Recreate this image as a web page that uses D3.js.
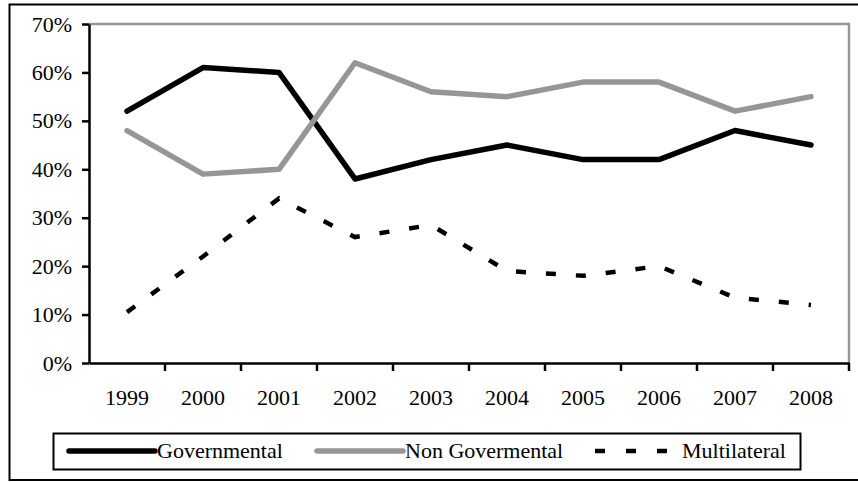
<!DOCTYPE html>
<html>
<head>
<meta charset="utf-8">
<script src="https://cdn.jsdelivr.net/npm/d3@7"></script>
<style>
  html, body { margin: 0; padding: 0; background: #fff; }
  svg { display: block; }
  text { font-family: "Liberation Serif", "Times New Roman", serif; fill: #000; }
</style>
</head>
<body>
<svg id="chart" width="858" height="482"></svg>
<script>
// ---- data ----
const years = ["1999","2000","2001","2002","2003","2004","2005","2006","2007","2008"];
const governmental    = [0.52, 0.61, 0.60, 0.38, 0.42, 0.45, 0.42, 0.42, 0.48, 0.45];
const nonGovermental  = [0.48, 0.39, 0.40, 0.62, 0.56, 0.55, 0.58, 0.58, 0.52, 0.55];
const multilateral    = [0.105, 0.22, 0.34, 0.26, 0.285, 0.19, 0.18, 0.20, 0.135, 0.12];
const seriesNames = ["Governmental", "Non Govermental", "Multilateral"];
const yTicks = [0, 0.1, 0.2, 0.3, 0.4, 0.5, 0.6, 0.7];

(function () {
// ---- styles ----
const FS = "22px";
const styles = [
  { color: "#000000", width: 5.5, dash: null, cap: "round" },
  { color: "#969696", width: 5.5, dash: null, cap: "round" },
  { color: "#000000", width: 4.5, dash: "10,20", cap: "butt" }
];
const seriesValues = [governmental, nonGovermental, multilateral];

const svg = d3.select("#chart");
const pl = 89, pr = 849, pt = 24, pb = 363;

// outer border
svg.append("rect").attr("x", 9.5).attr("y", 4.5).attr("width", 852).attr("height", 475.5)
  .attr("fill", "none").attr("stroke", "#000").attr("stroke-width", 2);

const x = d3.scaleBand().domain(years).range([pl, pr]).padding(0);
const y = d3.scaleLinear().domain([0, 0.7]).range([pb, pt]);
const cx = d => x(d) + x.bandwidth() / 2;

// plot area top & right borders (gray)
svg.append("path")
  .attr("d", `M${pl},${pt}H${pr}V${pb}`)
  .attr("fill", "none").attr("stroke", "#969696").attr("stroke-width", 2.5);

// y axis
const yAxis = d3.axisLeft(y).tickValues(yTicks).tickFormat(d3.format(".0%"))
  .tickSize(7).tickSizeOuter(0).tickPadding(10);
const gy = svg.append("g").attr("transform", `translate(${pl},0)`).call(yAxis);
gy.select(".domain").attr("stroke", "#000").attr("stroke-width", 2.5);
gy.selectAll(".tick line").attr("stroke", "#000").attr("stroke-width", 2.5);
gy.selectAll(".tick text").style("font-family", "'Liberation Serif', serif").style("font-size", FS).attr("fill", "#000");

// x axis: labels centered, ticks at category boundaries
const xAxis = d3.axisBottom(x).tickSize(0).tickSizeOuter(0).tickPadding(26);
const gx = svg.append("g").attr("transform", `translate(0,${pb})`).call(xAxis);
gx.select(".domain").attr("stroke", "#000").attr("stroke-width", 2.5);
gx.selectAll(".tick text").style("font-family", "'Liberation Serif', serif").style("font-size", FS).attr("fill", "#000");
gx.selectAll(".boundary").data(years).enter().append("line")
  .attr("x1", d => x(d) + x.bandwidth()).attr("x2", d => x(d) + x.bandwidth())
  .attr("y1", 0).attr("y2", 8).attr("stroke", "#000").attr("stroke-width", 2.5);

// lines
const line = d3.line().x((v, i) => cx(years[i])).y(v => y(v));
seriesValues.forEach((vals, k) => {
  const s = styles[k];
  svg.append("path").datum(vals)
    .attr("d", line)
    .attr("fill", "none")
    .attr("stroke", s.color)
    .attr("stroke-width", s.width)
    .attr("stroke-linecap", s.cap)
    .attr("stroke-linejoin", s.dash ? "miter" : "round")
    .attr("stroke-dasharray", s.dash);
});

// legend
const lg = svg.append("g");
lg.append("rect").attr("x", 53.5).attr("y", 433.5).attr("width", 747).attr("height", 36)
  .attr("fill", "none").attr("stroke", "#000").attr("stroke-width", 2);
const legendX = [69, 317, 595];
const legendLen = [86, 86, 73];
const ly = 451;
seriesNames.forEach((name, k) => {
  const s = styles[k];
  lg.append("line").attr("x1", legendX[k]).attr("x2", legendX[k] + legendLen[k])
    .attr("y1", ly).attr("y2", ly)
    .attr("stroke", s.color).attr("stroke-width", s.width)
    .attr("stroke-linecap", s.cap).attr("stroke-dasharray", s.dash ? "10,21" : null);
  lg.append("text").attr("x", k === 2 ? 682 : legendX[k] + legendLen[k] + 2).attr("y", ly + 7)
    .style("font-size", FS).text(name);
});
})();
</script>
</body>
</html>
